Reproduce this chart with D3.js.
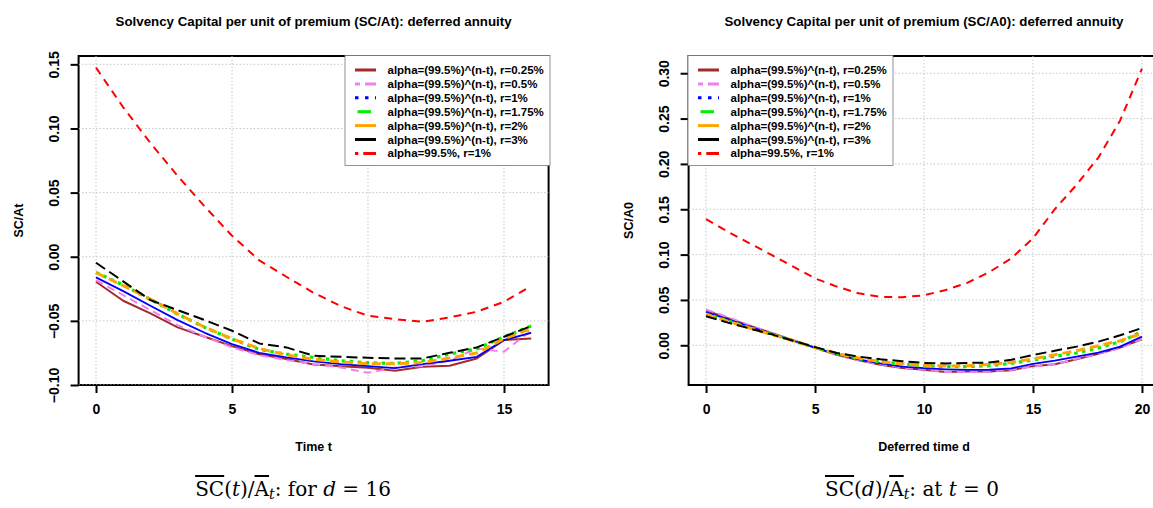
<!DOCTYPE html>
<html>
<head>
<meta charset="utf-8">
<script src="https://cdn.jsdelivr.net/npm/d3@7"></script>
<style>
  html, body { margin: 0; padding: 0; background: #fff; }
  svg { display: block; }
  text { font-family: "Liberation Sans", Arial, sans-serif; }
</style>
</head>
<body>
<svg id="chart" width="1153" height="508"></svg>
<script>
// ---------------- DATA ----------------
const timeT = [0, 1, 2, 3, 4, 5, 6, 7, 8, 9, 10, 11, 12, 13, 14, 15, 16];
const deferredD = [0, 1, 2, 3, 4, 5, 6, 7, 8, 9, 10, 11, 12, 13, 14, 15, 16, 17, 18, 19, 20];

const seriesNames = [
  "alpha=(99.5%)^(n-t), r=0.25%",
  "alpha=(99.5%)^(n-t), r=0.5%",
  "alpha=(99.5%)^(n-t), r=1%",
  "alpha=(99.5%)^(n-t), r=1.75%",
  "alpha=(99.5%)^(n-t), r=2%",
  "alpha=(99.5%)^(n-t), r=3%",
  "alpha=99.5%, r=1%"
];

// Left panel: SC/At against time t (d = 16)
const leftR025 = [-0.0195, -0.0343, -0.0442, -0.0551, -0.0624, -0.0697, -0.0760, -0.0797, -0.0840, -0.0853, -0.0866, -0.0889, -0.0858, -0.0850, -0.0793, -0.0650, -0.0637];
const leftR05  = [-0.0182, -0.0300, -0.0416, -0.0533, -0.0624, -0.0707, -0.0767, -0.0806, -0.0837, -0.0863, -0.0905, -0.0863, -0.0853, -0.0810, -0.0715, -0.0740, -0.0575];
const leftR1   = [-0.0161, -0.0268, -0.0382, -0.0494, -0.0593, -0.0681, -0.0749, -0.0785, -0.0816, -0.0837, -0.0853, -0.0868, -0.0837, -0.0811, -0.0780, -0.0650, -0.0593];
const leftR175 = [-0.0122, -0.0221, -0.0333, -0.0447, -0.0551, -0.0642, -0.0723, -0.0759, -0.0785, -0.0811, -0.0827, -0.0832, -0.0811, -0.0759, -0.0717, -0.0624, -0.0540];
const leftR2   = [-0.0125, -0.0225, -0.0330, -0.0445, -0.0550, -0.0640, -0.0715, -0.0765, -0.0800, -0.0820, -0.0835, -0.0835, -0.0825, -0.0790, -0.0750, -0.0640, -0.0560];
const leftR3   = [-0.0047, -0.0192, -0.0338, -0.0416, -0.0494, -0.0577, -0.0676, -0.0707, -0.0772, -0.0780, -0.0788, -0.0793, -0.0793, -0.0749, -0.0707, -0.0624, -0.0540];
const leftFix  = [0.1474, 0.1165, 0.0887, 0.0630, 0.0390, 0.0164, -0.0028, -0.0156, -0.0281, -0.0385, -0.0460, -0.0487, -0.0507, -0.0473, -0.0429, -0.0351, -0.0229];

// Right panel: SC/A0 against deferred time d (t = 0)
const rightR025 = [0.0385, 0.0300, 0.0215, 0.0135, 0.0055, -0.0027, -0.0105, -0.0165, -0.0215, -0.0250, -0.0270, -0.0295, -0.0290, -0.0290, -0.0275, -0.0230, -0.0210, -0.0155, -0.0095, -0.0025, 0.0065];
const rightR05  = [0.0395, 0.0310, 0.0220, 0.0140, 0.0055, -0.0027, -0.0107, -0.0165, -0.0210, -0.0245, -0.0265, -0.0295, -0.0295, -0.0290, -0.0270, -0.0235, -0.0210, -0.0150, -0.0095, -0.0030, 0.0070];
const rightR1   = [0.0367, 0.0285, 0.0205, 0.0130, 0.0050, -0.0026, -0.0100, -0.0155, -0.0200, -0.0235, -0.0253, -0.0265, -0.0272, -0.0270, -0.0255, -0.0206, -0.0170, -0.0125, -0.0080, -0.0015, 0.0095];
const rightR175 = [0.0345, 0.0270, 0.0195, 0.0125, 0.0050, -0.0025, -0.0095, -0.0145, -0.0185, -0.0210, -0.0228, -0.0235, -0.0235, -0.0225, -0.0200, -0.0162, -0.0120, -0.0085, -0.0030, 0.0040, 0.0150];
const rightR2   = [0.0340, 0.0265, 0.0190, 0.0120, 0.0050, -0.0025, -0.0090, -0.0140, -0.0180, -0.0205, -0.0220, -0.0228, -0.0225, -0.0210, -0.0190, -0.0150, -0.0105, -0.0060, -0.0005, 0.0050, 0.0130];
const rightR3   = [0.0320, 0.0250, 0.0185, 0.0120, 0.0050, -0.0020, -0.0085, -0.0125, -0.0155, -0.0175, -0.0195, -0.0200, -0.0195, -0.0190, -0.0160, -0.0107, -0.0060, -0.0015, 0.0040, 0.0110, 0.0190];
const rightFix  = [0.1390, 0.1253, 0.1124, 0.0997, 0.0867, 0.0738, 0.0647, 0.0573, 0.0533, 0.0530, 0.0551, 0.0610, 0.0690, 0.0808, 0.0958, 0.1180, 0.1500, 0.1770, 0.2070, 0.2480, 0.3050];

const leftXTicks = [0, 5, 10, 15];
const leftYTicks = [-0.10, -0.05, 0.00, 0.05, 0.10, 0.15];
const rightXTicks = [0, 5, 10, 15, 20];
const rightYTicks = [0.00, 0.05, 0.10, 0.15, 0.20, 0.25, 0.30];

// ---------------- STYLES ----------------
const lineStyles = [
  { color: "#A52A2A", width: 2,   dash: null,      legDash: null },
  { color: "#EE82EE", width: 2,   dash: "8,5",     legDash: "5,5,11,30" },
  { color: "#0000FF", width: 1.8, dash: null,      legDash: "3.5,6.5" },
  { color: "#00EE00", width: 3.2, dash: "3.5,4.5", legDash: null, legShort: true },
  { color: "#FFA500", width: 3,   dash: "9,5",     legDash: null },
  { color: "#000000", width: 2,   dash: "11,5",    legDash: null },
  { color: "#FF0000", width: 2,   dash: "8,6",     legDash: "3.3,5,13,30" }
];

const svg = d3.select("#chart");
const sans = '"Liberation Sans", Arial, sans-serif';

function drawPanel(cfg) {
  const g = svg.append("g");
  const x = d3.scaleLinear().domain(cfg.xDomain).range([cfg.left, cfg.right]);
  const y = d3.scaleLinear().domain(cfg.yDomain).range([cfg.bottom, cfg.top]);

  const clipId = "clip-" + cfg.id;
  svg.append("clipPath").attr("id", clipId)
    .append("rect").attr("x", cfg.left).attr("y", cfg.top)
    .attr("width", cfg.right - cfg.left).attr("height", cfg.bottom - cfg.top);

  // box
  g.append("rect")
    .attr("x", cfg.left).attr("y", cfg.top)
    .attr("width", cfg.right - cfg.left).attr("height", cfg.bottom - cfg.top)
    .attr("fill", "none").attr("stroke", "#000").attr("stroke-width", 2);

  // grid
  const grid = g.append("g").attr("clip-path", `url(#${clipId})`);
  grid.selectAll("line.gx").data(cfg.xTicks).join("line")
    .attr("x1", d => x(d)).attr("x2", d => x(d))
    .attr("y1", cfg.top).attr("y2", cfg.bottom)
    .attr("stroke", "#c8c8c8").attr("stroke-width", 1).attr("stroke-dasharray", "1.5,2");
  grid.selectAll("line.gy").data(cfg.yTicks).join("line")
    .attr("x1", cfg.left).attr("x2", cfg.right)
    .attr("y1", d => y(d)).attr("y2", d => y(d))
    .attr("stroke", "#c8c8c8").attr("stroke-width", 1).attr("stroke-dasharray", "1.5,2");

  // x axis
  const xAxis = d3.axisBottom(x).tickValues(cfg.xTicks).tickSize(8).tickPadding(11)
    .tickFormat(d3.format("d"));
  const xg = g.append("g").attr("transform", `translate(0,${cfg.bottom})`).call(xAxis);
  xg.select(".domain").remove();
  xg.selectAll(".tick line").attr("stroke", "#000").attr("stroke-width", 2);
  xg.selectAll(".tick text").attr("font-size", 14).attr("font-weight", "bold")
    .attr("fill", "#000").style("font-family", sans);

  // y axis
  const yAxis = d3.axisLeft(y).tickValues(cfg.yTicks).tickSize(8)
    .tickFormat(d3.format(".2f"));
  const yg = g.append("g").attr("transform", `translate(${cfg.left},0)`).call(yAxis);
  yg.select(".domain").remove();
  yg.selectAll(".tick line").attr("stroke", "#000").attr("stroke-width", 2);
  yg.selectAll(".tick text")
    .attr("x", null)
    .attr("font-size", 14).attr("font-weight", "bold").attr("fill", "#000")
    .style("font-family", sans)
    .attr("text-anchor", "middle")
    .attr("transform", `translate(${-25},0) rotate(-90)`)
    .attr("dy", "0.36em");

  // lines
  const lines = g.append("g").attr("clip-path", `url(#${clipId})`);
  cfg.series.forEach((vals, i) => {
    const st = lineStyles[i];
    const line = d3.line().x((d, j) => x(cfg.xs[j])).y(d => y(d));
    lines.append("path").datum(vals)
      .attr("d", line)
      .attr("fill", "none")
      .attr("stroke", st.color)
      .attr("stroke-width", st.width)
      .attr("stroke-dasharray", st.dash)
      .attr("stroke-linejoin", "round");
  });

  // legend
  const lg = g.append("g");
  lg.append("rect")
    .attr("x", cfg.legX).attr("y", cfg.top - 0.5)
    .attr("width", 205).attr("height", 110)
    .attr("fill", "#fff").attr("stroke", "#777").attr("stroke-width", 0.8);
  seriesNames.forEach((name, i) => {
    const st = lineStyles[i];
    const yy = cfg.top + 14 + i * 13.9;
    const x0 = cfg.legX + 10;
    const ln = lg.append("line")
      .attr("x1", st.legShort ? x0 + 2.5 : x0).attr("x2", st.legShort ? x0 + 16 : x0 + 21)
      .attr("y1", yy).attr("y2", yy)
      .attr("stroke", st.color).attr("stroke-width", 3);
    if (st.legDash) ln.attr("stroke-dasharray", st.legDash);
    lg.append("text")
      .attr("x", cfg.legX + 42.5).attr("y", yy)
      .attr("dy", "0.35em")
      .attr("font-size", 11.5).attr("font-weight", "bold").attr("fill", "#000")
      .text(name);
  });

  // title
  g.append("text")
    .attr("x", (cfg.left + cfg.right) / 2).attr("y", 21)
    .attr("dy", "0.35em").attr("text-anchor", "middle")
    .attr("font-size", 13.3).attr("font-weight", "bold")
    .text(cfg.title);

  // axis titles
  g.append("text")
    .attr("x", (cfg.left + cfg.right) / 2).attr("y", 447)
    .attr("dy", "0.35em").attr("text-anchor", "middle")
    .attr("font-size", 12.5).attr("font-weight", "bold")
    .text(cfg.xLabel);
  g.append("text")
    .attr("transform", `translate(${cfg.left - 60},${(cfg.top + cfg.bottom) / 2}) rotate(-90)`)
    .attr("dy", "0.35em").attr("text-anchor", "middle")
    .attr("font-size", 12.5).attr("font-weight", "bold")
    .text(cfg.yLabel);
}

drawPanel({
  id: "left",
  left: 78.6, right: 548.6, top: 56, bottom: 385,
  xDomain: [-0.64, 16.64], yDomain: [-0.100, 0.1565],
  xTicks: leftXTicks, yTicks: leftYTicks,
  xs: timeT,
  series: [leftR025, leftR05, leftR1, leftR175, leftR2, leftR3, leftFix],
  legX: 345,
  title: "Solvency Capital per unit of premium (SC/At): deferred annuity",
  xLabel: "Time t", yLabel: "SC/At"
});

drawPanel({
  id: "right",
  left: 688.6, right: 1159.4, top: 56, bottom: 385,
  xDomain: [-0.8, 20.8], yDomain: [-0.0438, 0.319],
  xTicks: rightXTicks, yTicks: rightYTicks,
  xs: deferredD,
  series: [rightR025, rightR05, rightR1, rightR175, rightR2, rightR3, rightFix],
  legX: 688,
  title: "Solvency Capital per unit of premium (SC/A0): deferred annuity",
  xLabel: "Deferred time d", yLabel: "SC/A0"
});

// ---------------- CAPTIONS ----------------
function caption(cx, parts) {
  const t = svg.append("text")
    .attr("x", cx).attr("y", 496)
    .attr("text-anchor", "middle")
    .style("font-family", '"DejaVu Serif", "Liberation Serif", serif')
    .attr("font-size", 20).attr("fill", "#000");
  parts.forEach(p => {
    const ts = t.append("tspan").text(p.s);
    if (p.over) ts.style("text-decoration", "overline");
    if (p.it) ts.style("font-style", "italic");
    if (p.sub) ts.attr("dy", 3).attr("font-size", 14);
    if (p.up) ts.attr("dy", -3);
  });
}
caption(293, [
  { s: "SC", over: true }, { s: "(" }, { s: "t", it: true }, { s: ")/" },
  { s: "A", over: true }, { s: "t", it: true, sub: true }, { s: ": for ", up: true },
  { s: "d", it: true }, { s: " = 16" }
]);
caption(912, [
  { s: "SC", over: true }, { s: "(" }, { s: "d", it: true }, { s: ")/" },
  { s: "A", over: true }, { s: "t", it: true, sub: true }, { s: ": at ", up: true },
  { s: "t", it: true }, { s: " = 0" }
]);
</script>
</body>
</html>
